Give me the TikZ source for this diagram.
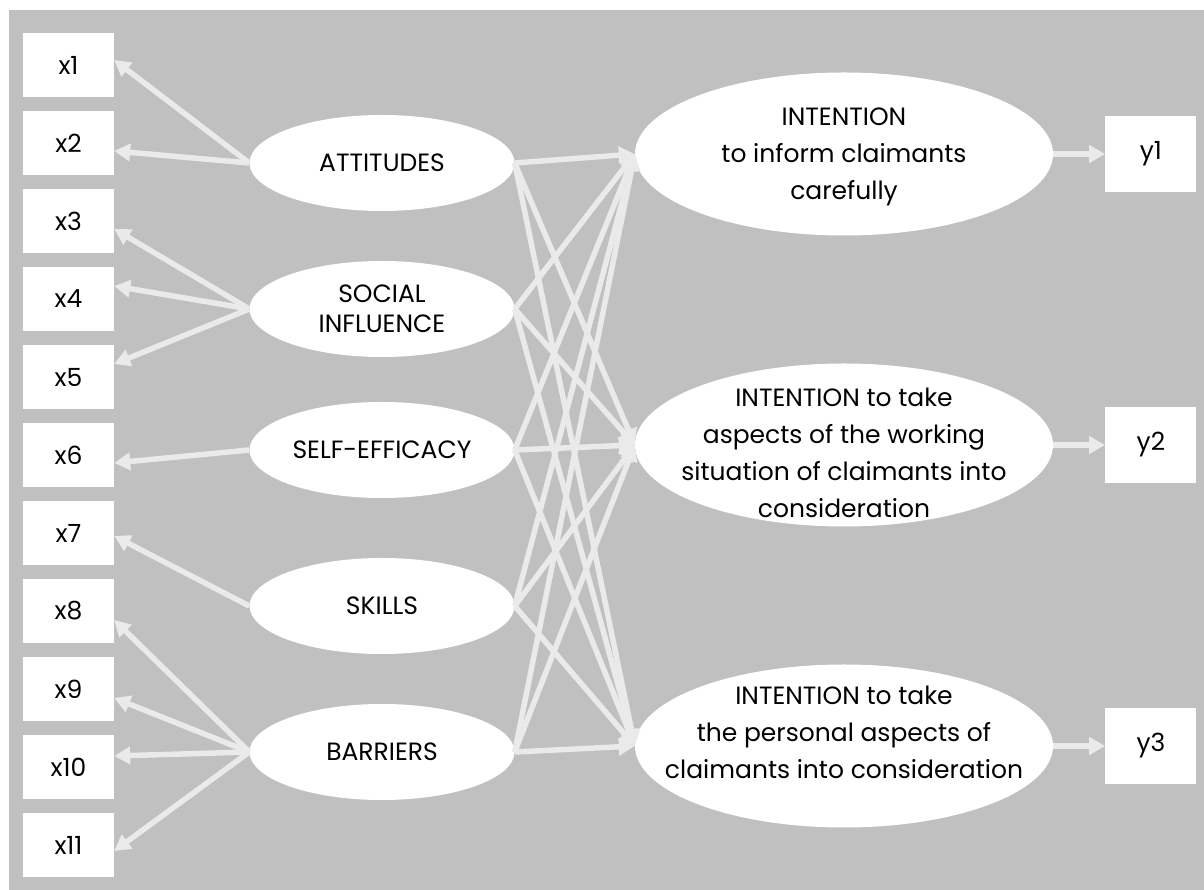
\documentclass[tikz,border=0pt]{standalone}
\usepackage{fontspec}
\setmainfont{Poppins}
\usetikzlibrary{shapes.geometric, arrows.meta, positioning}
\definecolor{bggray}{HTML}{C0C0C0}
\definecolor{arrowgray}{HTML}{EAEAEA}
\tikzstyle{obs}=[rectangle, fill=white, minimum width=91pt, minimum height=64pt, inner sep=0pt]
\tikzstyle{outobs}=[obs, minimum height=76pt]
\tikzstyle{latent}=[ellipse, fill=white, minimum width=265pt, minimum height=96pt, inner sep=0pt, align=center]
\tikzstyle{intention}=[ellipse, fill=white, minimum width=418pt, minimum height=163pt, inner sep=0pt]
\tikzstyle{intext}=[align=center, font=\fontsize{25}{37}\selectfont]
\tikzstyle{arrow}=[line width=5.5pt, draw=arrowgray, ->, >={Triangle[length=16pt,width=17pt]}]

\begin{document}
\begin{tikzpicture}[node distance=13.6pt, font=\fontsize{25}{30}\selectfont]
    \useasboundingbox (0,0) rectangle (1204pt,890pt);
    \fill[bggray] (9pt,0) rectangle (1204pt,880pt);

    % indicators of the predictors
    \node[obs] (x1) at (68.5pt,825pt) {x1};
    \node[obs, below=of x1] (x2) {x2};
    \node[obs, below=of x2] (x3) {x3};
    \node[obs, below=of x3] (x4) {x4};
    \node[obs, below=of x4] (x5) {x5};
    \node[obs, below=of x5] (x6) {x6};
    \node[obs, below=of x6] (x7) {x7};
    \node[obs, below=of x7] (x8) {x8};
    \node[obs, below=of x8] (x9) {x9};
    \node[obs, below=of x9] (x10) {x10};
    \node[obs, below=of x10] (x11) {x11};

    % predictors
    \node[latent] (att) at (382pt,727pt) {ATTITUDES};
    \node[latent] (soc) at (382pt,581pt) {SOCIAL\\INFLUENCE};
    \node[latent] (eff) at (382pt,440pt) {SELF-EFFICACY};
    \node[latent] (skl) at (382pt,284pt) {SKILLS};
    \node[latent] (bar) at (382pt,138pt) {BARRIERS};

    % intentions
    \node[intention, label={[intext, yshift=-3pt]center:INTENTION\\to inform claimants\\carefully}] (inf) at (844pt,736pt) {};
    \node[intention, label={[intext, yshift=-8pt]center:INTENTION to take\\aspects of the working\\situation of claimants into\\consideration}] (work) at (844pt,445pt) {};
    \node[intention, label={[intext, yshift=14pt]center:INTENTION to take\\the personal aspects of\\claimants into consideration}] (pers) at (844pt,144pt) {};
    \node[outobs, right=52pt of inf] (y1) {y1};
    \node[outobs, right=52pt of work] (y2) {y2};
    \node[outobs, right=52pt of pers] (y3) {y3};

    \draw[arrow] (att.west) -- ([yshift=5pt]x1.east);
    \draw[arrow] (att.west) -- ([yshift=-8pt]x2.east);
    \draw[arrow] (soc.west) -- ([yshift=-8pt]x3.east);
    \draw[arrow] (soc.west) -- ([yshift=13pt]x4.east);
    \draw[arrow] (soc.west) -- ([yshift=13pt]x5.east);
    \draw[arrow] (eff.west) -- ([yshift=-8pt]x6.east);
    \draw[arrow] (skl.west) -- ([yshift=-3pt]x7.east);
    \draw[arrow] (bar.west) -- ([yshift=-9pt]x8.east);
    \draw[arrow] (bar.west) -- ([yshift=-9pt]x9.east);
    \draw[arrow] (bar.west) -- ([yshift=11pt]x10.east);
    \draw[arrow] (bar.west) -- ([yshift=-6pt]x11.east);

    \draw[arrow] (att.east) -- (inf.west);
    \draw[arrow] (att.east) -- (work.west);
    \draw[arrow] (att.east) -- (pers.west);
    \draw[arrow] (soc.east) -- (inf.west);
    \draw[arrow] (soc.east) -- (work.west);
    \draw[arrow] (soc.east) -- (pers.west);
    \draw[arrow] (eff.east) -- (inf.west);
    \draw[arrow] (eff.east) -- (work.west);
    \draw[arrow] (eff.east) -- (pers.west);
    \draw[arrow] (skl.east) -- (inf.west);
    \draw[arrow] (skl.east) -- (work.west);
    \draw[arrow] (skl.east) -- (pers.west);
    \draw[arrow] (bar.east) -- (inf.west);
    \draw[arrow] (bar.east) -- (work.west);
    \draw[arrow] (bar.east) -- (pers.west);

    \draw[arrow] (inf) -- (y1);
    \draw[arrow] (work) -- (y2);
    \draw[arrow] (pers) -- (y3);
\end{tikzpicture}
\end{document}
